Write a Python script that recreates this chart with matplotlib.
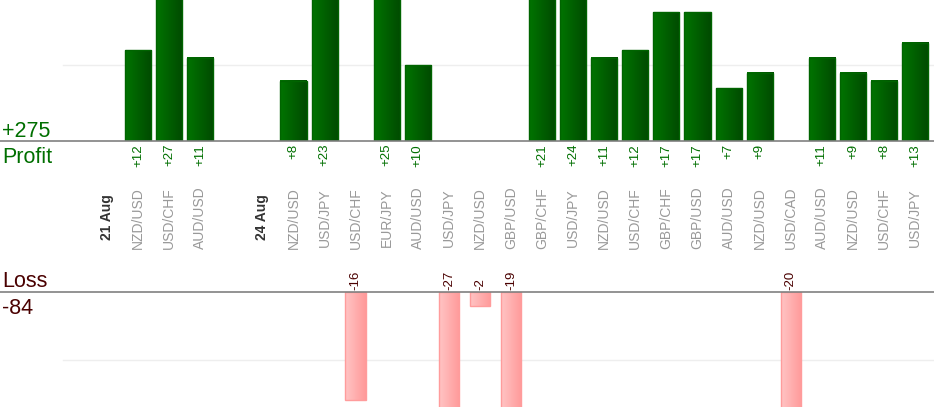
import numpy as np
import matplotlib
matplotlib.use('Agg')
import matplotlib.pyplot as plt
from matplotlib.colors import LinearSegmentedColormap

# one slot per trade, date slots carry the day label
labels = ['21 Aug', 'NZD/USD', 'USD/CHF', 'AUD/USD', '',
          '24 Aug', 'NZD/USD', 'USD/JPY', 'USD/CHF', 'EUR/JPY', 'AUD/USD',
          'USD/JPY', 'NZD/USD', 'GBP/USD', 'GBP/CHF', 'USD/JPY', 'NZD/USD',
          'USD/CHF', 'GBP/CHF', 'GBP/USD', 'AUD/USD', 'NZD/USD', 'USD/CAD',
          'AUD/USD', 'NZD/USD', 'USD/CHF', 'USD/JPY']
is_date = [1, 0, 0, 0, 0, 1] + [0] * 21
profit = [0, 12, 27, 11, 0, 0, 8, 23, 0, 25, 10, 0, 0, 0, 21, 24, 11, 12,
          17, 17, 7, 9, 0, 11, 9, 8, 13]
loss = [0, 0, 0, 0, 0, 0, 0, 0, -16, 0, 0, -27, -2, -19, 0, 0, 0, 0,
        0, 0, 0, 0, -20, 0, 0, 0, 0]

W, H = 934, 420
GREEN = '#006f00'
DARKRED = '#4a0000'

fig = plt.figure(figsize=(W / 100, H / 100), dpi=100)
plt.rcParams['font.family'] = ['Liberation Sans', 'DejaVu Sans']

def add_ax(top, bottom):
    return fig.add_axes([0, 1 - bottom / H, 1, (bottom - top) / H])

ax_p = add_ax(0, 141)
ax_m = add_ax(141, 292)
ax_l = add_ax(292, 407)

x = np.arange(len(labels))
xlim = (-107 / 31.08, (W - 107) / 31.08)


def gradient_bars(ax, bars, c0, c1, edge):
    cmap = LinearSegmentedColormap.from_list('g', [c0, c1])
    grad = np.linspace(0, 1, 64).reshape(1, -1)
    for r in bars:
        h = r.get_height()
        if h == 0:
            r.set_visible(False)
            continue
        x0, y0, w = r.get_x(), r.get_y(), r.get_width()
        ax.imshow(grad, extent=[x0, x0 + w, min(y0, y0 + h), max(y0, y0 + h)],
                  aspect='auto', cmap=cmap, zorder=2, interpolation='bilinear')
        r.set_facecolor('none')
        r.set_edgecolor(edge)
        r.set_linewidth(1.0)
        r.set_zorder(3)


# profit panel
pb = ax_p.bar(x, profit, width=0.84)
gradient_bars(ax_p, pb, '#007400', '#004a00', '#006400')
ax_p.set_xlim(*xlim)
ax_p.set_ylim(0, 141 / 7.56)
ax_p.axhline(10, xmin=63 / W, color='#eeeeee', lw=1, zorder=1)
ax_p.axhline(0, color='#808080', lw=1.2, clip_on=False, zorder=4)
ax_p.axis('off')

# loss panel
lb = ax_l.bar(x, loss, width=0.66)
gradient_bars(ax_l, lb, '#ffc4c4', '#ff9a9a', '#ff9c9c')
ax_l.set_xlim(*xlim)
ax_l.set_ylim(-115 / 6.76, 0)
ax_l.axhline(-10, xmin=63 / W, color='#eeeeee', lw=1, zorder=1)
ax_l.axhline(0, color='#808080', lw=1.2, clip_on=False, zorder=4)
ax_l.axis('off')

# middle band: value labels and pair names, y in pixels
ax_m.set_xlim(*xlim)
ax_m.set_ylim(292 - 141, 0)
ax_m.axis('off')
for i, lab in enumerate(labels):
    if profit[i] > 0:
        ax_m.text(i, 3, '+%d' % profit[i], rotation=90, ha='center', va='top',
                  color=GREEN, fontsize=9.5)
    if lab:
        if is_date[i]:
            ax_m.text(i, 76, lab, rotation=90, ha='center', va='center',
                      color='#333333', fontsize=10, fontweight='bold')
        else:
            ax_m.text(i, 77, lab, rotation=90, ha='center', va='center',
                      color='#999999', fontsize=10)
    if loss[i] < 0:
        ax_m.text(i, 149, '%d' % loss[i], rotation=90, ha='center', va='bottom',
                  color=DARKRED, fontsize=9.5)

# totals on the left
fs = 15.5
fig.text(2 / W, 1 - 137 / H, '+%d' % sum(profit), color=GREEN, fontsize=fs,
         va='baseline')
fig.text(2 / W, 1 - 163 / H, 'Profit', color=GREEN, fontsize=fs, va='baseline')
fig.text(2 / W, 1 - 287 / H, 'Loss', color=DARKRED, fontsize=fs, va='baseline')
fig.text(2 / W, 1 - 314 / H, '%d' % sum(loss), color=DARKRED, fontsize=fs,
         va='baseline')

fig.savefig('out.png', dpi=100)
